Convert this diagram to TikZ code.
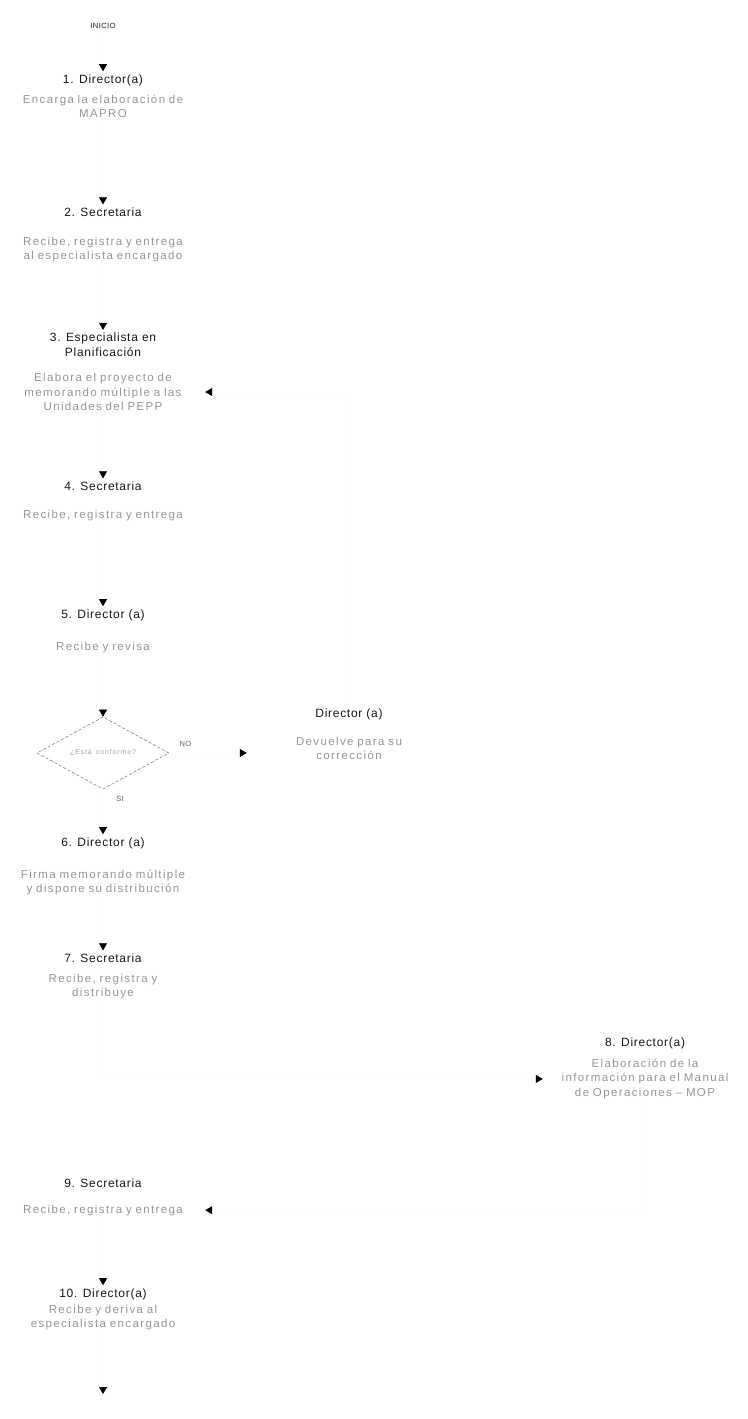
\documentclass[tikz,border=0pt]{standalone}
\usepackage{fontspec}
\setmainfont{Liberation Sans}
\newfontfamily\titlefont[LetterSpace=6]{Liberation Sans}
\newfontfamily\descfont[LetterSpace=12,WordSpace=1.6]{Liberation Sans}
\usetikzlibrary{arrows.meta,positioning,shapes.geometric,calc}
\definecolor{inkgray}{RGB}{25,25,25}
\definecolor{descgray}{RGB}{150,150,150}
\definecolor{linegray}{RGB}{252,252,252}
\tikzset{
  steptitle/.style={font=\titlefont\fontsize{12}{15}\selectfont, text=inkgray, align=center, inner sep=3pt},
  stepdesc/.style={font=\descfont\fontsize{11.5}{14.5}\selectfont, text=descgray, text width=200pt, align=center, inner sep=2pt},
  terminal/.style={font=\titlefont\fontsize{7.5}{8}\selectfont, text=inkgray, inner sep=3pt},
  decision/.style={diamond, draw=black!55, densely dashed, line width=0.5pt, minimum width=132pt, minimum height=62pt,
                   inner sep=0pt, font=\descfont\fontsize{7}{8}\selectfont, text=black!35},
  flow/.style={draw=linegray, line width=0.6pt, -{Triangle[length=7pt,width=8pt,color=black,fill=black]}},
  branch/.style={font=\titlefont\fontsize{7.5}{8}\selectfont, text=black!60, inner sep=1pt},
}
\begin{document}
\begin{tikzpicture}[x=1pt, y=-1pt]
\fill[white] (0,0) rectangle (739,1419);
\node[terminal] (inicio) at (103,26) {INICIO};
% column of steps
\node[steptitle] (t1) at (103,80) {1. Director(a)};
\node[stepdesc, below=4pt of t1] (d1) {Encarga la elaboración de\\MAPRO};
\node[steptitle] (t2) at (103,212) {2. Secretaria};
\node[stepdesc, below=15pt of t2] (d2) {Recibe, registra y entrega\\al especialista encargado};
\node[steptitle] (t3) at (103,345) {3. Especialista en\\Planificación};
\node[stepdesc, below=11pt of t3] (d3) {Elabora el proyecto de\\memorando múltiple a las\\Unidades del PEPP};
\node[steptitle] (t4) at (103,486) {4. Secretaria};
\node[stepdesc, below=14pt of t4] (d4) {Recibe, registra y entrega};
\node[steptitle] (t5) at (103,615) {5. Director (a)};
\node[stepdesc, below=16pt of t5] (d5) {Recibe y revisa};
\node[decision] (dia) at (103,753) {¿Está conforme?};
\node[steptitle] (corrt) at (349,714) {Director (a)};
\node[stepdesc, below=12pt of corrt] (corrd) {Devuelve para su\\corrección};
\node[steptitle] (t6) at (103,843) {6. Director (a)};
\node[stepdesc, below=16pt of t6] (d6) {Firma memorando múltiple\\y dispone su distribución};
\node[steptitle] (t7) at (103,958) {7. Secretaria};
\node[stepdesc, below=6pt of t7] (d7) {Recibe, registra y\\distribuye};
\node[steptitle] (t8) at (645,1043) {8. Director(a)};
\node[stepdesc, below=5pt of t8] (d8) {Elaboración de la\\información para el Manual\\de Operaciones – MOP};
\node[steptitle] (t9) at (103,1183) {9. Secretaria};
\node[stepdesc, below=12pt of t9] (d9) {Recibe, registra y entrega};
\node[steptitle] (t10) at (103,1294) {10. Director(a)};
\node[stepdesc, below=0pt of t10] (d10) {Recibe y deriva al\\especialista encargado};
\coordinate (fin) at (103,1394);
% connectors
\draw[flow] (inicio) -- (t1);
\foreach \a/\b in {d1/t2, d2/t3, d3/t4, d4/t5, d5/dia, d6/t7, d9/t10}
  \draw[flow] (\a) -- (\b);
\draw[flow] (dia) -- node[branch, pos=0.22, right=12pt] {SI} (t6);
\draw[flow] (dia.east) -- node[branch, pos=0, above right=5pt and 9pt] {NO} (dia.east -| corrd.west);
\draw[flow] (corrt.north) |- (d3.east);
\draw[flow] (d7.south) |- (d8.west);
\draw[flow] (d8.south) |- (d9.east);
\draw[flow] (d10) -- (fin);
\end{tikzpicture}
\end{document}
